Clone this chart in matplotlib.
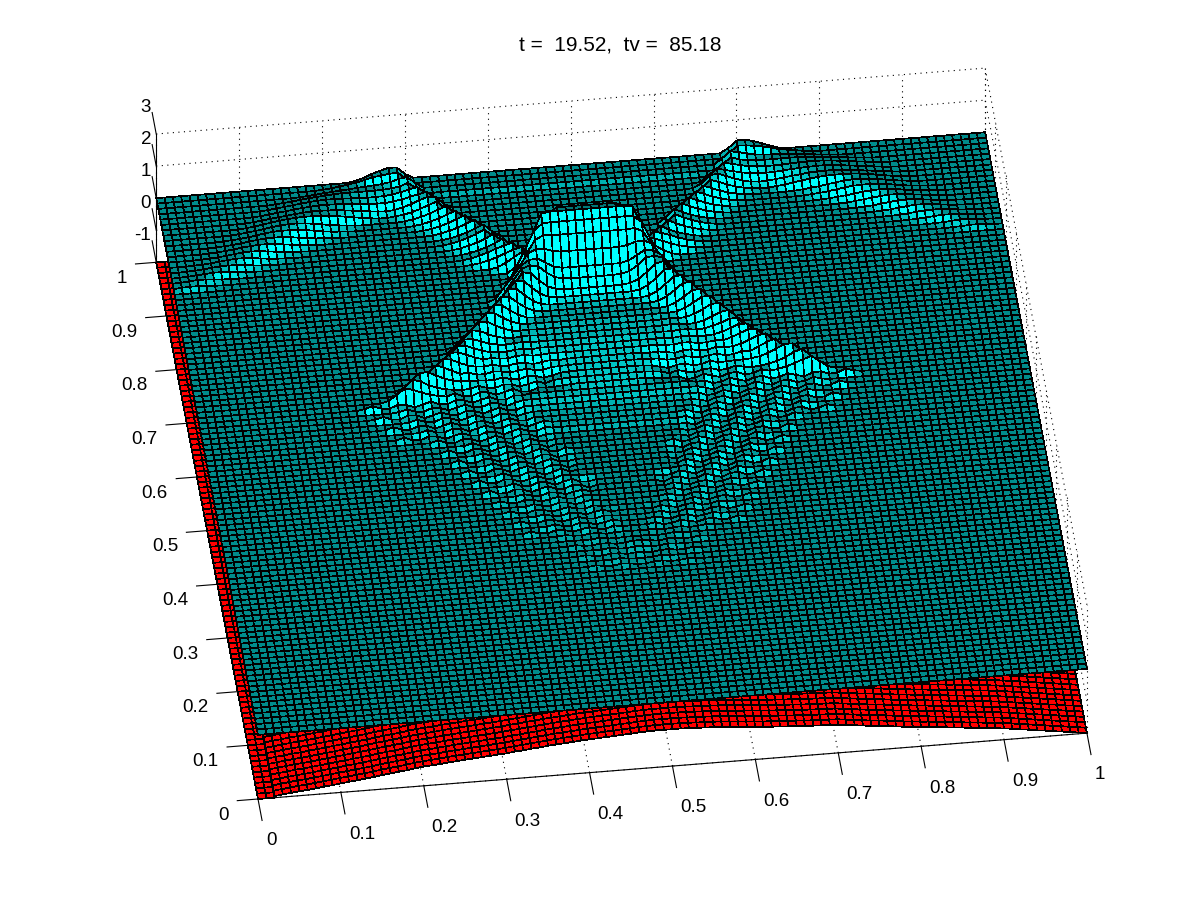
import numpy as np
import matplotlib
matplotlib.use('Agg')
import matplotlib.pyplot as plt
from mpl_toolkits.mplot3d import proj3d

plt.rcParams['font.family'] = ['Liberation Sans', 'DejaVu Sans']

title_text = 't =  19.52,  tv =  85.18'
x_ticks = [0, 0.1, 0.2, 0.3, 0.4, 0.5, 0.6, 0.7, 0.8, 0.9, 1]
y_ticks = [0, 0.1, 0.2, 0.3, 0.4, 0.5, 0.6, 0.7, 0.8, 0.9, 1]
z_ticks = [-1, 0, 1, 2, 3]
tick_labels = ['0', '0.1', '0.2', '0.3', '0.4', '0.5', '0.6', '0.7', '0.8', '0.9', '1']

# water height * 100 on a 101 x 101 grid. Everything not listed
# is the flat level. Each entry: row (y = row/100), first column (x = col/100), heights.
# The picture is symmetric about x = 0.495, so only the left half is listed.
flat_level = 100

ripple_spans = [
    (26, 43, [100, 103, 99, 98, 102, 101, 97]),
    (27, 46, [100, 103, 99, 98]),
    (28, 42, [100, 103, 99, 98, 102, 101, 97, 100]),
    (29, 45, [100, 103, 99, 98, 102]),
    (30, 41, [100, 103, 99, 98, 102, 101, 97, 100, 103]),
    (31, 44, [100, 103, 99, 98]),
    (32, 40, [100, 103, 99, 98, 102, 101, 97, 100]),
    (33, 36, [100, 105, 98, 96, 104, 102, 95, 100, 105, 98, 96, 104]),
    (34, 39, [100, 105, 98, 96, 104, 102, 95, 100, 105]),
    (35, 35, [100, 105, 98, 96, 104, 102, 95, 100, 105, 98, 96, 104, 102]),
    (36, 38, [100, 105, 98, 96, 104, 102, 95, 100, 105, 98]),
    (37, 34, [100, 105, 98, 96, 104, 102, 95, 100, 105, 98, 96, 104]),
    (38, 37, [100, 105, 98, 96, 104, 102, 95, 100, 105]),
    (39, 33, [100, 105, 98, 96, 104, 102, 95, 100, 105, 98, 96, 104, 102]),
    (40, 36, [100, 105, 98, 96, 104, 102, 95, 100, 105, 98]),
    (41, 32, [100, 107, 97, 95, 105, 103, 93, 100, 107, 97, 95, 105, 103, 93]),
    (42, 35, [100, 107, 97, 95, 105, 103, 93, 100, 107, 97, 95]),
    (43, 31, [100, 107, 97, 95, 105, 103, 93, 100, 107, 97, 95, 105, 103]),
    (44, 34, [100, 107, 97, 95, 105, 103, 93, 100, 107, 97]),
    (45, 30, [100, 107, 97, 95, 105, 103, 93, 100, 107, 97, 95, 105, 103, 93]),
    (46, 33, [100, 107, 97, 95, 105, 103, 93, 100, 107, 97, 95]),
    (47, 29, [100, 107, 97, 95, 105, 103, 93, 100, 107, 97, 95, 105, 103, 93, 100]),
    (48, 32, [100, 107, 97, 95, 105, 103, 93, 100, 107, 97, 95, 105]),
    (49, 28, [100, 107, 97, 95, 105, 103, 93, 100, 107, 97, 95, 105, 103, 93]),
    (50, 31, [100, 107, 97, 95, 105, 103, 93, 100, 107, 97, 95]),
    (51, 27, [100, 107, 97, 95, 105, 103, 93, 100, 107, 97, 95, 105, 103, 93, 100]),
    (52, 23, [100, 107, 97, 95, 105, 103, 93, 100, 107, 97, 95, 105, 103, 93, 100, 107, 97, 95, 105, 102, 102, 102, 102, 102, 102, 102, 102]),
    (53, 26, [101, 108, 98, 96, 106, 104, 94, 101, 108, 98, 96, 106, 104, 94, 101, 108, 103, 103, 103, 103, 103, 103, 103, 103]),
    (54, 22, [101, 108, 98, 96, 106, 104, 94, 101, 108, 98, 96, 106, 104, 94, 101, 108, 98, 96, 106, 104, 104, 104, 104, 104, 104, 104, 104, 104]),
    (55, 25, [102, 109, 99, 97, 107, 105, 95, 102, 109, 99, 97, 107, 105, 95, 102, 105, 105, 105, 105, 105, 105, 105, 105, 105, 105]),
    (56, 21, [102, 109, 99, 97, 107, 105, 95, 102, 109, 99, 97, 107, 105, 95, 102, 109, 99, 97, 107, 107, 107, 107, 107, 107, 107, 107, 107, 107, 107]),
    (57, 24, [103, 110, 100, 98, 108, 106, 96, 103, 110, 100, 98, 108, 106, 96, 103, 110, 110, 110, 110, 110, 110, 110, 110, 110, 110, 110]),
    (58, 20, [104, 111, 101, 99, 109, 107, 97, 104, 111, 101, 99, 109, 107, 97, 104, 111, 101, 99, 109, 107, 112, 112, 112, 112, 112, 112, 112, 112, 112, 112]),
]

# front legs of the cross, from the flat outside to the middle column
front_spans = [
    (59, 23, [106, 124, 142, 134, 124, 116, 110, 106, 113, 103, 101, 111, 109, 99, 106, 113, 103, 101, 111, 109, 110, 112, 114, 115, 115, 115, 115]),
    (60, 24, [105, 128, 150, 142, 128, 118, 112, 108, 105, 108, 114, 106, 104, 112, 110, 102, 108, 114, 106, 114, 116, 118, 118, 118, 118, 118]),
    (61, 25, [106, 130, 152, 152, 140, 128, 120, 116, 114, 114, 112, 112, 118, 110, 108, 116, 114, 106, 112, 118, 120, 121, 121, 121, 121]),
    (62, 27, [106, 130, 155, 146, 134, 122, 124, 116, 115, 121, 119, 114, 118, 122, 116, 115, 121, 122, 123, 124, 124, 124, 124]),
    (63, 28, [106, 131, 156, 152, 140, 130, 124, 122, 126, 120, 119, 125, 123, 118, 122, 126, 124, 126, 127, 127, 127, 127]),
    (64, 29, [106, 131, 156, 156, 146, 136, 128, 130, 126, 125, 130, 131, 127, 128, 130, 130, 130, 130, 130, 130, 130]),
    (65, 30, [107, 132, 157, 158, 148, 138, 132, 130, 129, 133, 134, 131, 133, 133, 133, 133, 133, 133, 133, 133]),
    (66, 31, [108, 134, 160, 160, 150, 142, 136, 134, 137, 138, 135, 136, 136, 136, 136, 136, 136, 136, 136]),
    (67, 31, [104, 124, 147, 170, 166, 154, 144, 138, 136, 139, 140, 138, 138, 138, 138, 138, 138, 138, 138]),
    (68, 32, [105, 130, 154, 178, 176, 162, 150, 142, 140, 142, 140, 140, 140, 140, 140, 140, 140, 140]),
    (69, 33, [106, 132, 160, 186, 184, 168, 154, 145, 142, 143, 142, 142, 142, 142, 142, 142, 142]),
    (70, 34, [106, 134, 163, 192, 190, 172, 156, 146, 143, 143, 143, 143, 143, 143, 143, 143]),
    (71, 35, [108, 138, 168, 198, 198, 178, 160, 148, 144, 144, 144, 144, 144, 144, 144]),
    (72, 36, [108, 140, 172, 205, 204, 182, 162, 150, 146, 146, 146, 146, 146, 146]),
    (73, 37, [110, 144, 178, 212, 210, 186, 166, 154, 150, 150, 150, 150, 150]),
    (74, 38, [112, 148, 184, 220, 214, 190, 170, 160, 156, 156, 156, 156]),
    (75, 38, [108, 144, 180, 214, 222, 218, 196, 180, 174, 172, 172, 172]),
    (76, 38, [110, 142, 174, 206, 222, 226, 210, 196, 190, 190, 190, 190]),
    (77, 39, [112, 150, 188, 226, 238, 236, 228, 224, 224, 224, 224]),
    (78, 40, [116, 160, 210, 250, 262, 260, 260, 260, 260, 260]),
    (79, 40, [112, 160, 210, 262, 282, 284, 284, 284, 284, 284]),
    (80, 41, [112, 150, 240, 296, 300, 300, 300, 300, 300]),
    (81, 41, [120, 146, 150, 200, 280, 295, 295, 295, 295]),
    (82, 39, [106, 118, 134, 148, 148, 120, 105, 100, 100, 100, 100]),
]

# back legs and the faint bands reflected off the y = 1 edge
back_spans = [
    (83, 0, [101, 103, 104, 104, 102, 101]),
    (83, 36, [102, 106, 112, 120, 130, 140, 146, 118, 100, 98, 98, 98, 98, 98]),
    (84, 0, [101, 102, 104, 106, 106, 104, 102, 101]),
    (84, 35, [102, 106, 112, 120, 130, 138, 145, 118, 100, 98, 98, 98, 98, 98, 98]),
    (85, 1, [101, 102, 104, 106, 108, 108, 106, 104, 102, 101]),
    (85, 35, [102, 106, 112, 120, 130, 144, 118, 100, 98, 98, 98, 98, 98, 98, 98]),
    (86, 2, [101, 102, 104, 107, 109, 110, 109, 107, 104, 102, 101]),
    (86, 34, [102, 106, 112, 120, 130, 143, 118, 100, 98, 98, 98, 98, 98, 98, 98, 98]),
    (87, 3, [101, 102, 104, 107, 110, 112, 112, 110, 107, 104, 102, 101]),
    (87, 33, [102, 106, 112, 120, 130, 142, 118, 100, 98, 98, 98, 98, 98, 98, 98, 98, 98]),
    (88, 4, [101, 102, 104, 107, 110, 113, 114, 113, 110, 107, 104, 102, 101]),
    (88, 33, [102, 106, 112, 120, 130, 141, 118, 100, 98, 98, 98, 98, 98, 98, 98, 98, 98]),
    (89, 5, [101, 102, 105, 108, 111, 114, 116, 116, 114, 111, 108, 105, 102, 101]),
    (89, 32, [102, 106, 112, 120, 130, 141, 118, 100, 98, 98, 98, 98, 98, 98, 98, 98, 98, 98]),
    (90, 6, [101, 103, 105, 108, 111, 115, 117, 118, 117, 115, 111, 108, 105, 103, 101]),
    (90, 31, [102, 106, 112, 120, 130, 140, 116, 100, 98, 98, 98, 98, 98, 98, 98, 98, 98, 98, 98]),
    (91, 7, [101, 103, 105, 108, 112, 116, 119, 120, 120, 119, 116, 112, 108, 105, 103, 101]),
    (91, 30, [102, 106, 112, 120, 130, 140, 116, 100, 98, 98, 98, 98, 98, 98, 98, 98, 98, 98, 98, 98]),
    (92, 8, [101, 103, 106, 109, 113, 117, 120, 122, 122, 120, 117, 113, 109, 106, 103, 101]),
    (92, 29, [102, 106, 112, 120, 130, 139, 116, 100, 98, 98, 98, 98, 98, 98, 98, 98, 98, 98, 98, 98, 98]),
    (93, 9, [101, 103, 106, 110, 114, 118, 121, 123, 124, 124, 123, 121, 118, 114, 110, 106, 103]),
    (93, 28, [103, 106, 112, 120, 130, 139, 116, 100, 98, 98, 98, 98, 98, 98, 98, 98, 98, 98, 98, 98, 98, 98]),
    (94, 10, [101, 103, 106, 109, 112, 115, 118, 120, 122, 122, 121, 120, 117, 114, 111, 108, 105, 104, 106, 112, 120, 130, 139, 136, 112, 100, 98, 98, 98, 98, 98, 98, 98, 98, 98, 98, 98, 98, 98, 98]),
    (95, 11, [101, 103, 106, 109, 112, 115, 118, 120, 122, 122, 121, 120, 118, 116, 114, 113, 113, 116, 120, 126, 132, 138, 118, 100, 98, 98, 98, 98, 98, 98, 98, 98, 98, 98, 98, 98, 98, 98, 98]),
    (96, 12, [101, 103, 106, 109, 112, 115, 118, 120, 121, 121, 120, 119, 118, 117, 117, 118, 121, 126, 132, 138, 118, 100, 98, 98, 98, 98, 98, 98, 98, 98, 98, 98, 98, 98, 98, 98, 98, 98]),
    (97, 14, [102, 104, 107, 110, 113, 115, 117, 119, 120, 120, 120, 120, 120, 121, 123, 127, 136, 118, 100, 99]),
    (98, 17, [101, 103, 105, 108, 110, 112, 114, 116, 118, 120, 122, 126, 134, 137, 118, 100]),
    (99, 20, [102, 104, 108, 112, 116, 122, 128, 132, 135, 137, 116, 100]),
    (100, 24, [104, 112, 122, 130, 137, 136, 114, 100]),
]

# bottom height * 100 along the front edge y=0, one value per x step of 0.01
bed_edge = [
    -100, -97, -95, -92, -89, -86, -84, -81, -78, -75,
    -72, -69, -66, -63, -60, -56, -53, -50, -47, -43,
    -40, -38, -36, -33, -31, -29, -27, -25, -23, -21,
    -19, -16, -14, -11, -9, -6, -4, -2, 0, 2,
    4, 5, 7, 8, 10, 11, 13, 14, 15, 15,
    15, 15, 14, 13, 12, 11, 10, 8, 6, 4,
    2, 0, -2, -3, -5, -6, -8, -9, -10, -11,
    -12, -15, -18, -21, -24, -26, -29, -32, -35, -37,
    -40, -42, -45, -47, -50, -52, -55, -57, -60, -62,
    -65, -68, -72, -75, -79, -82, -86, -89, -93, -96,
    -100,
]

fig = plt.figure(figsize=(12, 9), dpi=100, facecolor='white')
ax = fig.add_axes([0, 0, 1000 / 1200, 1000 / 900], projection='3d')
ax.set_proj_type('ortho')
ax.view_init(elev=40.35, azim=-97.0)
ax.set_box_aspect((1, 1, 0.2016))
ax.set_xlim(0, 1)
ax.set_ylim(0, 1)
ax.set_zlim(-1, 3)
ax.set_xticks([])
ax.set_yticks([])
ax.set_zticks([])
ax.set_axis_off()
ax.computed_zorder = False
ax.patch.set_alpha(0)


def to_px(x, y, z):
    u, v, _ = proj3d.proj_transform(x, y, z, ax.get_proj())
    return ax.transData.transform((u, v))


# place the box so the x axis lands where the reference has it
ax.apply_aspect()
p0 = to_px(0, 0, -1)
p1 = to_px(1, 0, -1)
target0 = np.array([258, 900 - 799])
target1 = np.array([1087, 900 - 734])
scale = np.linalg.norm(target1 - target0) / np.linalg.norm(p1 - p0)
left, bottom = target0 - p0 * scale
size = 1000 * scale
ax.set_position([left / 1200, bottom / 900, size / 1200, size / 900])

# grid on the two back walls and the floor
dots = dict(color='black', lw=0.8, ls=(0, (1, 4)), zorder=0)
for t in x_ticks:
    ax.plot([t, t], [1, 1], [-1, 3], **dots)
    ax.plot([t, t], [0, 1], [-1, -1], **dots)
for t in y_ticks:
    ax.plot([1, 1], [t, t], [-1, 3], **dots)
    ax.plot([0, 1], [t, t], [-1, -1], **dots)
for t in z_ticks:
    ax.plot([0, 1], [1, 1], [t, t], **dots)
    ax.plot([1, 1], [0, 1], [t, t], **dots)

mesh_lw = 0.5

# bottom: strip along the front edge and strip along the left edge
edge = np.array(bed_edge) / 100
band_x = np.linspace(0, 1, edge.size)
band_y = np.arange(0, 0.17, 0.01)
bx, by = np.meshgrid(band_x, band_y)
bz = np.tile(edge, (band_y.size, 1))
ax.plot_surface(bx, by, bz, color=(1, 0, 0), shade=False, rstride=1, cstride=1,
                edgecolor='black', linewidth=mesh_lw, antialiased=False, zorder=1)

side_x = band_x[:3]
side_y = np.linspace(0, 1, 101)
sx, sy = np.meshgrid(side_x, side_y)
sz = np.full(sx.shape, edge[0])
ax.plot_surface(sx, sy, sz, color=(1, 0, 0), shade=False, rstride=1, cstride=1,
                edgecolor='black', linewidth=mesh_lw, antialiased=False, zorder=1)

# water surface
z = np.full((101, 101), flat_level, dtype=float)
for row, col, heights in ripple_spans + front_spans + back_spans:
    n = len(heights)
    z[row, col:col + n] = heights
    z[row, 99 - col - n + 1:99 - col + 1] = heights[::-1]
z = z / 100

# faces lit by how much they turn towards the viewer
xs = np.linspace(0, 1, z.shape[1])
ys = np.linspace(0, 1, z.shape[0])
X, Y = np.meshgrid(xs, ys)
dzdy = (z[1:, :-1] + z[1:, 1:] - z[:-1, :-1] - z[:-1, 1:]) / 2 / (ys[1] - ys[0])
dzdx = (z[:-1, 1:] + z[1:, 1:] - z[:-1, :-1] - z[1:, :-1]) / 2 / (xs[1] - xs[0])
light = 0.545 + 0.075 * np.clip(dzdy, 0, None) + 0.015 * np.clip(dzdy, None, 0) + 0.01 * np.abs(dzdx)
light = np.clip(light, 0.47, 1)
faces = np.dstack([np.zeros_like(light), light, light, np.ones_like(light)])
ax.plot_surface(X, Y, z, facecolors=faces, shade=False, rstride=1, cstride=1,
                edgecolor='black', linewidth=mesh_lw, antialiased=False, zorder=2)

# axes, ticks and labels
line = dict(color='black', lw=0.8, zorder=3)
ax.plot([0, 1], [0, 0], [-1, -1], **line)
ax.plot([0, 0], [0, 1], [-1, -1], **line)
ax.plot([0, 0], [1, 1], [-1, 3], **line)
for t, lab in zip(x_ticks, tick_labels):
    ax.plot([t, t], [0, -0.04], [-1, -1], **line)
    ax.text(t, -0.078, -1, lab, ha='left', va='center', fontsize=13.5, zorder=4)
for t, lab in zip(y_ticks, tick_labels):
    ax.plot([0, -0.025], [t, t], [-1, -1], **line)
    ax.text(-0.035, t, -1.43, lab, ha='right', va='center', fontsize=13.5, zorder=4)
for t in z_ticks:
    ax.plot([0, 0], [1, 1.04], [t, t], **line)
    ax.text(0, 1.05, t, str(t), ha='right', va='center', fontsize=13.5, zorder=4)

fig.text(620 / 1200, 1 - 45 / 900, title_text, ha='center', va='center', fontsize=15)

fig.savefig('out.png', dpi=100)
